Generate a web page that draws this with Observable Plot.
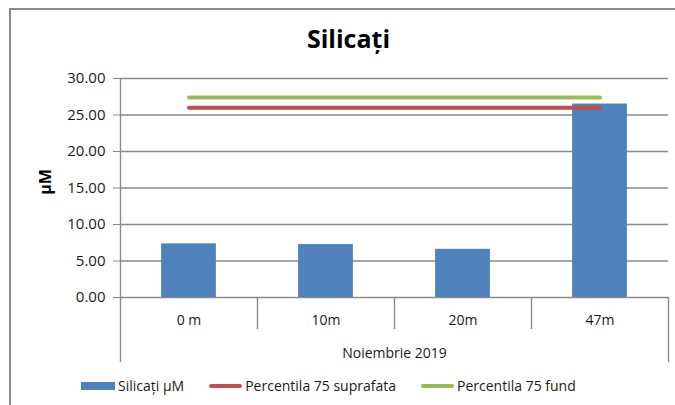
<!DOCTYPE html>
<html>
<head>
<meta charset="utf-8">
<script src="https://cdn.jsdelivr.net/npm/d3@7"></script>
<script src="https://cdn.jsdelivr.net/npm/@observablehq/plot@0.6"></script>
<style>
  html, body { margin: 0; padding: 0; background: #fff; overflow: hidden; }
  #chart { position: relative; width: 675px; height: 405px; overflow: hidden; font-family: "Open Sans", sans-serif; color: #1a1a1a; }
  #frame { position: absolute; left: 9px; top: 8px; width: 700px; height: 420px; border-top: 2px solid #8a8a8a; border-left: 2px solid #8a8a8a; box-sizing: border-box; }
  #title { position: absolute; left: 0; top: 23px; width: 697px; text-align: center; font-size: 25px; line-height: 30px; font-weight: bold; color: #000; }
  #ylabel { position: absolute; left: 45px; top: 182px; transform: translate(-50%, -50%) rotate(-90deg); font-size: 16px; font-weight: bold; color: #000; white-space: nowrap; }
  #plot { position: absolute; left: 0; top: 60px; }
  #legend { position: absolute; left: 81px; top: 375px; display: flex; align-items: center; gap: 25px; font-size: 14px; line-height: 22px; color: #1a1a1a; white-space: nowrap; }
  .item { display: flex; align-items: center; gap: 3px; }
  .sw-bar { width: 34px; height: 8px; }
  .sw-line { width: 33px; height: 4px; border-radius: 2px; }
</style>
</head>
<body>
<div id="chart">
  <div id="frame"></div>
  <div id="title">Silicați</div>
  <div id="ylabel">µM</div>
  <div id="plot"></div>
  <div id="legend"></div>
</div>
<script>
// ---- data ----
const categories = ["0 m", "10m", "20m", "47m"];
const silicati = [7.35, 7.25, 6.6, 26.5];
const percentilaSuprafata = [26.0, 26.0, 26.0, 26.0];
const percentilaFund = [27.4, 27.4, 27.4, 27.4];
const yTicks = [0, 5, 10, 15, 20, 25, 30];
const groupLabel = "Noiembrie 2019";
const seriesNames = ["Silicați µM", "Percentila 75 suprafata", "Percentila 75 fund"];
const colors = ["#4F81BD", "#C0504D", "#9BBB59"];

// ---- layout ----
const W = 675, H = 305, mL = 120, mR = 7, mT = 18, mB = 68;
const pIn = 0.6, pOut = 0.3;
const step = (W - mL - mR) / (categories.length - pIn + 2 * pOut);
const grid = "#8a8a8a";

const bars = categories.map((c, i) => ({cat: c, v: silicati[i]}));
const sup = categories.map((c, i) => ({cat: c, v: percentilaSuprafata[i]}));
const fund = categories.map((c, i) => ({cat: c, v: percentilaFund[i]}));

const chart = Plot.plot({
  width: W, height: H,
  marginLeft: mL, marginRight: mR, marginTop: mT, marginBottom: mB,
  style: {fontFamily: "Open Sans, sans-serif", fontSize: "14px", color: "#1a1a1a", background: "transparent", overflow: "visible"},
  x: {type: "band", domain: categories, paddingInner: pIn, paddingOuter: pOut, round: false},
  y: {domain: [0, 30], ticks: yTicks},
  marks: [
    Plot.ruleY(yTicks, {stroke: grid, strokeWidth: 1.4}),
    Plot.axisY({ticks: yTicks, tickSize: 7, tickPadding: 8, tickFormat: d3.format(".2f"), stroke: grid, strokeOpacity: 1, fontSize: 15, label: null}),
    Plot.axisX({tickSize: 0, tickPadding: 18, label: groupLabel, labelAnchor: "center", labelOffset: 60, labelArrow: "none", fontSize: 14}),
    // category separators (Excel-style multi-level axis)
    Plot.ruleX(categories.slice(1), {x: d => d, dx: -step / 2, y1: 0, y2: -4.4, stroke: grid, strokeWidth: 1.4}),
    Plot.ruleX([categories[0]], {x: d => d, dx: -step / 2, y1: 30, y2: -8.9, stroke: grid, strokeWidth: 1.4}),
    Plot.ruleX([categories[categories.length - 1]], {x: d => d, dx: step / 2, y1: 0, y2: -8.9, stroke: grid, strokeWidth: 1.4}),
    Plot.barY(bars, {x: "cat", y: "v", fill: colors[0]}),
    Plot.lineY(sup, {x: "cat", y: "v", stroke: colors[1], strokeWidth: 4, strokeLinecap: "round"}),
    Plot.lineY(fund, {x: "cat", y: "v", stroke: colors[2], strokeWidth: 4, strokeLinecap: "round"})
  ]
});
document.getElementById("plot").appendChild(chart);

// ---- legend ----
const legend = document.getElementById("legend");
seriesNames.forEach((name, i) => {
  const item = document.createElement("div");
  item.className = "item";
  const sw = document.createElement("span");
  sw.className = i === 0 ? "sw-bar" : "sw-line";
  sw.style.background = colors[i];
  const t = document.createElement("span");
  t.textContent = name;
  item.appendChild(sw); item.appendChild(t);
  legend.appendChild(item);
});
</script>
</body>
</html>
